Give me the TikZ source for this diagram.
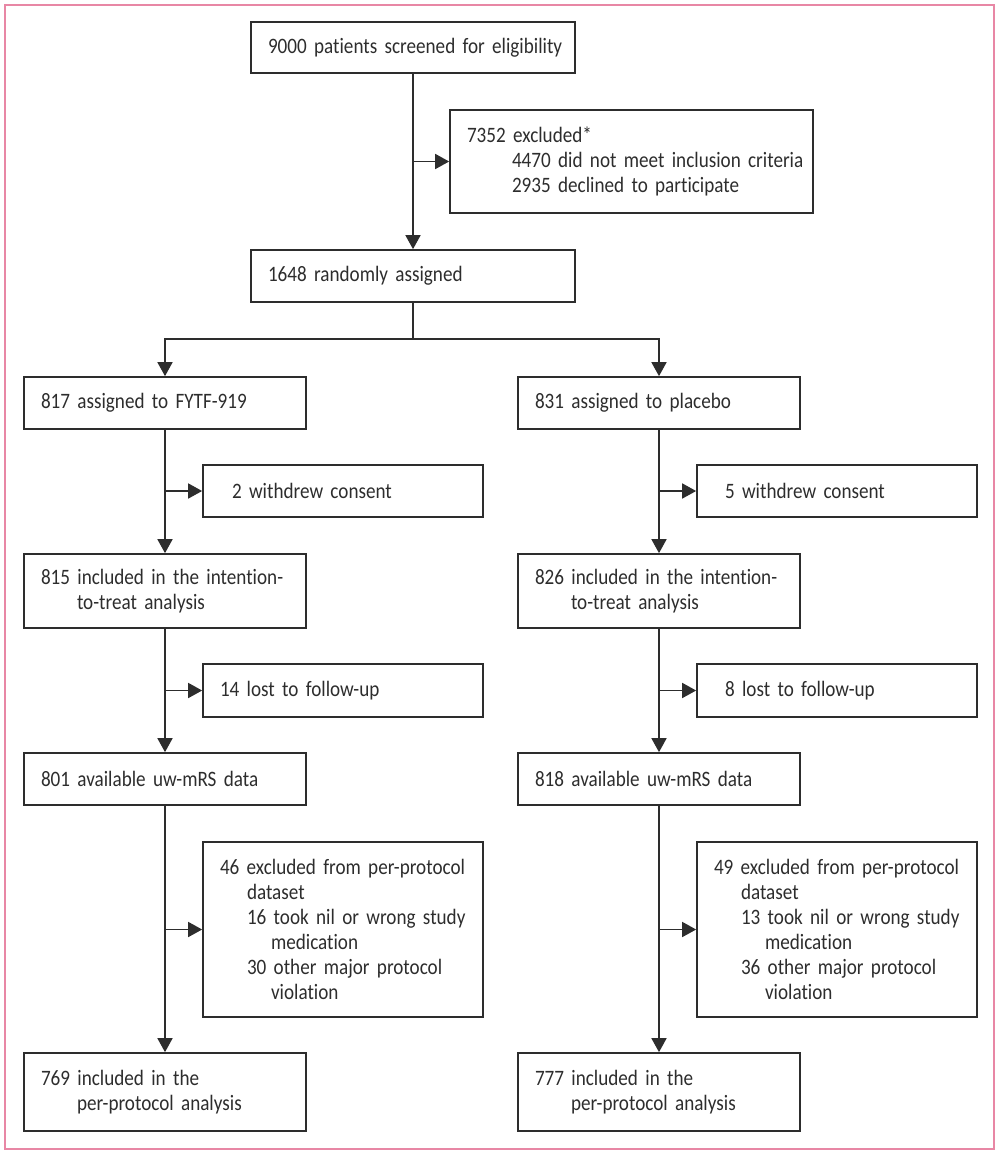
\documentclass[tikz,border=0pt]{standalone}
\usepackage{fontspec}
\setmainfont{Carlito}[FakeStretch=0.87,Ligatures=NoCommon]
\usetikzlibrary{arrows.meta}
\definecolor{pinkb}{RGB}{232,135,165}
\definecolor{ink}{RGB}{45,45,45}
\newcommand{\boxfont}{\fontsize{22}{25}\selectfont}
\begin{document}
\begin{tikzpicture}[x=1pt,y=-1pt,
  box/.style={draw=ink, line width=1.7pt, text=ink, inner xsep=17pt, inner ysep=0pt, align=left, anchor=center, font=\boxfont},
  lbox/.style={box, text width=248pt},
  sbox/.style={box, text width=246pt},
  arr/.style={draw=ink, line width=1.7pt, -{Triangle[length=14pt,width=15pt]}},
  ln/.style={draw=ink, line width=1.7pt}]
\useasboundingbox (0,0) rectangle (1000,1156);
\draw[pinkb, line width=2pt] (5,5) rectangle (994,1149);
% top
\node[box, text width=290pt, minimum height=51pt] (screen) at (413,47.5) {\mbox{9000 patients screened for eligibility}};
\node[box, text width=329pt, minimum height=103pt] (excl) at (631.5,161.5) {\mbox{7352 excluded*}\\\mbox{\hspace*{45pt}4470 did not meet inclusion criteria}\\\mbox{\hspace*{45pt}2935 declined to participate}};
\node[box, text width=290pt, minimum height=52pt] (rand) at (413,276) {\mbox{1648 randomly assigned}};
% left column
\node[lbox, minimum height=52pt] (L1) at (165,403) {\mbox{817 assigned to FYTF-919}};
\node[sbox, minimum height=52pt] (Lw) at (343,491) {\mbox{\hspace*{12pt}2 withdrew consent}};
\node[lbox, minimum height=74pt] (L2) at (165,591) {\mbox{815 included in the intention-}\\\mbox{\hspace*{36pt}to-treat analysis}};
\node[sbox, minimum height=53pt] (Ll) at (343,690.5) {\mbox{14 lost to follow-up}};
\node[lbox, minimum height=52pt] (L3) at (165,779) {\mbox{801 available uw-mRS data}};
\node[sbox, minimum height=175pt] (Le) at (343,929.5) {\mbox{46 excluded from per-protocol}\\\mbox{\hspace*{27pt}dataset}\\\mbox{\hspace*{27pt}16 took nil or wrong study}\\\mbox{\hspace*{51pt}medication}\\\mbox{\hspace*{27pt}30 other major protocol}\\\mbox{\hspace*{51pt}violation}};
\node[lbox, minimum height=78pt] (L4) at (165,1092) {\mbox{769 included in the}\\\mbox{\hspace*{36pt}per-protocol analysis}};
% right column
\node[lbox, minimum height=52pt] (R1) at (659,403) {\mbox{831 assigned to placebo}};
\node[sbox, minimum height=52pt] (Rw) at (837,491) {\mbox{\hspace*{11pt}5 withdrew consent}};
\node[lbox, minimum height=74pt] (R2) at (659,591) {\mbox{826 included in the intention-}\\\mbox{\hspace*{36pt}to-treat analysis}};
\node[sbox, minimum height=53pt] (Rl) at (837,690.5) {\mbox{\hspace*{11pt}8 lost to follow-up}};
\node[lbox, minimum height=52pt] (R3) at (659,779) {\mbox{818 available uw-mRS data}};
\node[sbox, minimum height=175pt] (Re) at (837,929.5) {\mbox{49 excluded from per-protocol}\\\mbox{\hspace*{27pt}dataset}\\\mbox{\hspace*{27pt}13 took nil or wrong study}\\\mbox{\hspace*{51pt}medication}\\\mbox{\hspace*{27pt}36 other major protocol}\\\mbox{\hspace*{51pt}violation}};
\node[lbox, minimum height=78pt] (R4) at (659,1092) {\mbox{777 included in the}\\\mbox{\hspace*{36pt}per-protocol analysis}};
% connectors top
\draw[arr] (screen.south) -- (rand.north);
\coordinate (j0) at (screen.south |- excl.west);
\draw[arr] (j0) -- (excl.west);
\coordinate (br) at (413,339);
\draw[ln] (rand.south) -- (br);
\draw[arr] (br) -| (L1.north);
\draw[arr] (br) -| (R1.north);
% left connectors
\draw[arr] (L1.south) -- (L2.north);
\coordinate (jl1) at (L1.south |- Lw.west);
\draw[arr] (jl1) -- (Lw.west);
\draw[arr] (L2.south) -- (L3.north);
\coordinate (jl2) at (L2.south |- Ll.west);
\draw[arr] (jl2) -- (Ll.west);
\draw[arr] (L3.south) -- (L4.north);
\coordinate (jl3) at (L3.south |- Le.west);
\draw[arr] (jl3) -- (Le.west);
% right connectors
\draw[arr] (R1.south) -- (R2.north);
\coordinate (jr1) at (R1.south |- Rw.west);
\draw[arr] (jr1) -- (Rw.west);
\draw[arr] (R2.south) -- (R3.north);
\coordinate (jr2) at (R2.south |- Rl.west);
\draw[arr] (jr2) -- (Rl.west);
\draw[arr] (R3.south) -- (R4.north);
\coordinate (jr3) at (R3.south |- Re.west);
\draw[arr] (jr3) -- (Re.west);
\end{tikzpicture}
\end{document}
